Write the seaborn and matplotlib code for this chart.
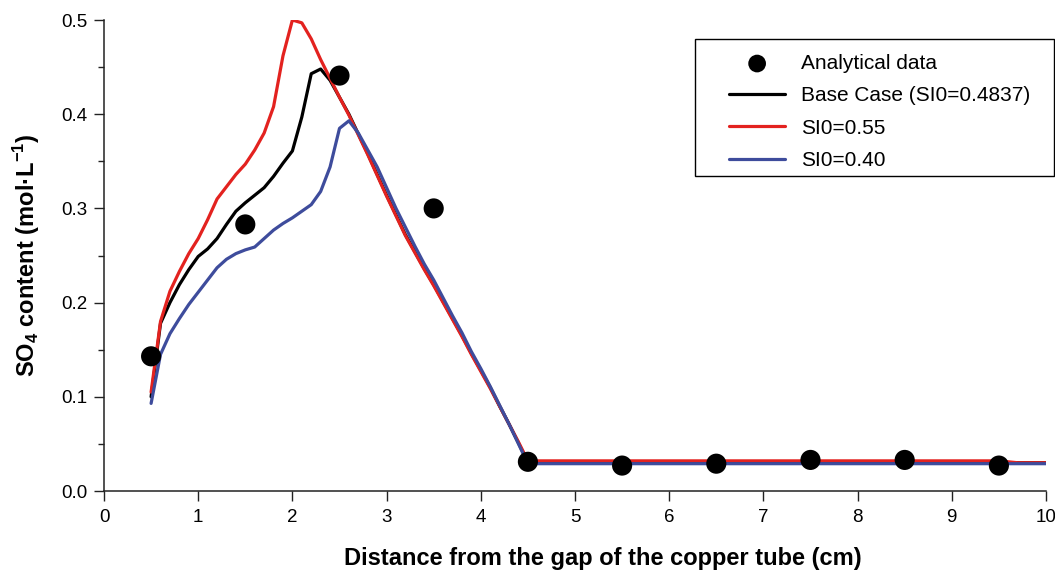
import matplotlib
matplotlib.use("Agg")
import matplotlib.pyplot as plt
from matplotlib.ticker import MultipleLocator
from matplotlib.patches import Rectangle
from matplotlib.transforms import ScaledTranslation
import seaborn as sns

# Measured sulfate content along the tube
obs_x = [0.5, 1.5, 2.5, 3.5, 4.5, 5.5, 6.5, 7.5, 8.5, 9.5]
obs_y = [0.143, 0.283, 0.441, 0.300, 0.031, 0.027, 0.029, 0.033, 0.033, 0.027]

# Simulated profiles
base_x = [0.5, 0.6, 0.7, 0.8, 0.9, 1.0, 1.1, 1.2, 1.3, 1.4, 1.5, 1.6, 1.7, 1.8, 1.9,
          2.0, 2.1, 2.2, 2.3, 2.4, 2.5, 2.6, 2.7, 2.8, 2.9, 3.0, 3.1, 3.2, 3.3, 3.4,
          3.5, 3.6, 3.7, 3.8, 3.9, 4.0, 4.1, 4.2, 4.3, 4.4, 4.5, 5.5, 6.5, 7.5, 8.5,
          9.5, 10.0]
base_y = [0.100, 0.178, 0.200, 0.219, 0.235, 0.249, 0.257, 0.268, 0.283, 0.297, 0.306,
          0.314, 0.322, 0.334, 0.348, 0.361, 0.397, 0.443, 0.448, 0.436, 0.418, 0.400,
          0.379, 0.358, 0.336, 0.314, 0.293, 0.272, 0.254, 0.236, 0.219, 0.201, 0.183,
          0.165, 0.146, 0.128, 0.110, 0.090, 0.071, 0.051, 0.030, 0.030, 0.030, 0.030,
          0.030, 0.030, 0.030]

hi_x = [0.5, 0.6, 0.7, 0.8, 0.9, 1.0, 1.1, 1.2, 1.3, 1.4, 1.5, 1.6, 1.7, 1.8, 1.9,
        2.0, 2.1, 2.2, 2.3, 2.4, 2.5, 2.6, 2.7, 2.8, 2.9, 3.0, 3.1, 3.2, 3.3, 3.4,
        3.5, 3.6, 3.7, 3.8, 3.9, 4.0, 4.1, 4.2, 4.3, 4.4, 4.5, 5.5, 6.5, 7.5, 8.5,
        9.5, 9.7, 10.0]
hi_y = [0.105, 0.180, 0.212, 0.233, 0.252, 0.268, 0.288, 0.310, 0.323, 0.336, 0.347,
        0.362, 0.380, 0.408, 0.462, 0.500, 0.497, 0.480, 0.458, 0.438, 0.418, 0.399,
        0.378, 0.357, 0.335, 0.313, 0.292, 0.271, 0.253, 0.235, 0.218, 0.200, 0.182,
        0.164, 0.145, 0.127, 0.109, 0.090, 0.071, 0.052, 0.032, 0.032, 0.032, 0.032,
        0.032, 0.032, 0.030, 0.030]

lo_x = [0.5, 0.6, 0.7, 0.8, 0.9, 1.0, 1.1, 1.2, 1.3, 1.4, 1.5, 1.6, 1.7, 1.8, 1.9,
        2.0, 2.1, 2.2, 2.3, 2.4, 2.5, 2.6, 2.7, 2.8, 2.9, 3.0, 3.1, 3.2, 3.3, 3.4,
        3.5, 3.6, 3.7, 3.8, 3.9, 4.0, 4.1, 4.2, 4.3, 4.4, 4.5, 5.5, 6.5, 7.5, 8.5,
        9.5, 10.0]
lo_y = [0.093, 0.145, 0.167, 0.183, 0.198, 0.211, 0.224, 0.237, 0.246, 0.252, 0.256,
        0.259, 0.268, 0.277, 0.284, 0.290, 0.297, 0.304, 0.318, 0.344, 0.385, 0.393,
        0.380, 0.362, 0.344, 0.322, 0.300, 0.280, 0.260, 0.241, 0.224, 0.205, 0.186,
        0.168, 0.148, 0.130, 0.111, 0.091, 0.071, 0.050, 0.029, 0.029, 0.029, 0.029,
        0.029, 0.029, 0.029]

labels = ["Analytical data", "Base Case (SI0=0.4837)", "SI0=0.55", "SI0=0.40"]
colors = {"base": "#000000", "hi": "#e3221f", "lo": "#3e4c9c"}

sns.set_theme(style="ticks")
plt.rcParams["font.family"] = ["Liberation Sans", "DejaVu Sans"]
plt.rcParams["mathtext.fontset"] = "custom"
plt.rcParams["mathtext.rm"] = "Liberation Sans"
plt.rcParams["mathtext.bf"] = "Liberation Sans:bold"
plt.rcParams["text.color"] = "black"
plt.rcParams["axes.labelcolor"] = "black"

fig = plt.figure(figsize=(10.55, 5.72), dpi=100)
ax = fig.add_axes([104 / 1055, 0.1416, 942 / 1055, 0.8234])

lw = 2.3
sns.lineplot(x=base_x, y=base_y, ax=ax, color=colors["base"], lw=lw, sort=False,
             estimator=None, label=labels[1], zorder=2)
sns.lineplot(x=hi_x, y=hi_y, ax=ax, color=colors["hi"], lw=lw, sort=False,
             estimator=None, label=labels[2], zorder=3)
sns.lineplot(x=lo_x, y=lo_y, ax=ax, color=colors["lo"], lw=lw, sort=False,
             estimator=None, label=labels[3], zorder=4)
sns.scatterplot(x=obs_x, y=obs_y, ax=ax, color="black", s=210, edgecolor="none",
                label=labels[0], zorder=5)
if ax.get_legend() is not None:
    ax.get_legend().remove()

ax.set_xlim(0, 10)
ax.set_ylim(0, 0.5)
ax.xaxis.set_major_locator(MultipleLocator(1))
ax.yaxis.set_major_locator(MultipleLocator(0.1))
ax.yaxis.set_minor_locator(MultipleLocator(0.05))
ax.set_yticks(ax.get_yticks())
ax.set_yticklabels([f"{v:.1f}" for v in ax.get_yticks()])
ax.set_ylim(0, 0.5)
ax.tick_params(axis="both", which="major", direction="out", length=7, width=1.0,
               labelsize=13.5, color="#222222", labelcolor="black", pad=5)
ax.tick_params(axis="x", which="major", pad=6)
ax.tick_params(axis="y", which="minor", direction="out", length=4, width=1.0,
               color="#222222")
for side in ("left", "bottom"):
    ax.spines[side].set_linewidth(1.1)
    ax.spines[side].set_color("#222222")
sns.despine(ax=ax)

# Nudge the last x tick label inward so it stays inside the figure
fig.canvas.draw()
last = ax.get_xticklabels()[-1]
last.set_transform(last.get_transform() + ScaledTranslation(-5 / 100, 0, fig.dpi_scale_trans))

ax.set_xlabel("Distance from the gap of the copper tube (cm)", fontsize=17,
              fontweight="bold")
ax.xaxis.set_label_coords(0.530, -0.119)
ax.set_ylabel(r"SO$_\mathbf{4}$ content (mol·L$^\mathbf{-1}$)", fontsize=17,
              fontweight="bold")
ax.yaxis.set_label_coords(-0.066, 0.5)

handles, lbls = ax.get_legend_handles_labels()
order = [lbls.index(l) for l in labels]
leg = fig.legend([handles[i] for i in order], [lbls[i] for i in order],
                 loc="upper left", bbox_to_anchor=(729 / 1055, 1 - 54 / 572),
                 bbox_transform=fig.transFigure, fontsize=15, frameon=False,
                 handlelength=2.7, handletextpad=0.75, borderpad=0.0,
                 borderaxespad=0.0, labelspacing=0.64, markerscale=0.88)

# Legend border box
fig.patches.append(Rectangle((695 / 1055, 1 - 176 / 572), 359 / 1055, 137 / 572,
                             transform=fig.transFigure, fill=False,
                             edgecolor="black", linewidth=1.0, zorder=10))

fig.savefig("out.png", dpi=100)
